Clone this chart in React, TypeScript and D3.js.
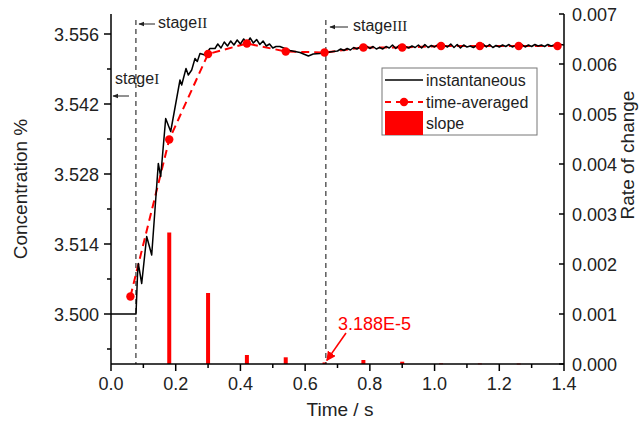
import React from 'react';
import * as d3 from 'd3';

// Instantaneous concentration (time in s, concentration %)
const instTime = [
  0, 0.0773, 0.0819, 0.0844, 0.0949, 0.1103, 0.1258, 0.1462, 0.1536, 0.169, 0.1845,
  0.2132, 0.2185, 0.2318, 0.2389, 0.2494, 0.2596, 0.2667, 0.275, 0.2905, 0.3059, 0.3214,
  0.33, 0.34, 0.35, 0.36, 0.37, 0.38, 0.39, 0.40, 0.41, 0.42, 0.43, 0.44, 0.45, 0.46,
  0.47, 0.48, 0.49, 0.50, 0.51, 0.522, 0.553, 0.584, 0.61, 0.625, 0.646, 0.667, 0.687,
  0.70, 0.71, 0.72, 0.73, 0.74, 0.75, 0.76, 0.77, 0.78, 0.79, 0.80, 0.81, 0.82, 0.83,
  0.84, 0.85, 0.86, 0.87, 0.88, 0.89, 0.90, 0.91, 0.92, 0.93, 0.94, 0.95, 0.96, 0.97,
  0.98, 0.99, 1.00, 1.01, 1.02, 1.03, 1.04, 1.05, 1.06, 1.07, 1.08, 1.09, 1.10, 1.11,
  1.12, 1.13, 1.14, 1.15, 1.16, 1.17, 1.18, 1.19, 1.20, 1.21, 1.22, 1.23, 1.24, 1.25,
  1.26, 1.27, 1.28, 1.29, 1.30, 1.31, 1.32, 1.33, 1.34, 1.35, 1.36, 1.37, 1.38, 1.39, 1.40,
];
const instConc = [
  3.5, 3.5, 3.5078, 3.5101, 3.5061, 3.5155, 3.5118, 3.5301, 3.5275, 3.5391, 3.5365,
  3.5468, 3.5458, 3.5491, 3.5478, 3.5488, 3.5511, 3.5505, 3.5521, 3.5518, 3.5531, 3.5531,
  3.554, 3.5532, 3.5544, 3.5536, 3.5546, 3.5538, 3.5548, 3.554, 3.555, 3.5541, 3.5552, 3.5542, 3.5549, 3.5539,
  3.5546, 3.5536, 3.554, 3.5532, 3.5535, 3.5535, 3.5527, 3.5523, 3.5516, 3.552, 3.5521, 3.5523, 3.5525,
  3.5526, 3.553, 3.5527, 3.5531, 3.5528, 3.5533, 3.553, 3.5534, 3.5531, 3.5536, 3.5531, 3.5535, 3.553, 3.5533,
  3.553, 3.5535, 3.5532, 3.5538, 3.5531, 3.5537, 3.5533, 3.5535, 3.5532, 3.5536, 3.5533, 3.5538, 3.5532, 3.5539,
  3.5533, 3.5537, 3.5534, 3.5539, 3.5533, 3.5537, 3.5534, 3.554, 3.5533, 3.5539, 3.5532, 3.5538, 3.5534, 3.5536,
  3.5533, 3.5537, 3.5535, 3.554, 3.5534, 3.5539, 3.5533, 3.5537, 3.5534, 3.5538, 3.5535, 3.5539, 3.5534, 3.5537,
  3.5535, 3.5539, 3.5534, 3.5538, 3.5535, 3.5539, 3.5536, 3.5538, 3.5535, 3.5539, 3.5536, 3.5538, 3.5537, 3.5539, 3.5538,
];

// Time-averaged concentration
const avgTime = [0.06, 0.18, 0.30, 0.42, 0.54, 0.66, 0.78, 0.90, 1.02, 1.14, 1.26, 1.38];
const avgConc = [3.5035, 3.5349, 3.552, 3.5541, 3.5525, 3.5523, 3.5533, 3.5533, 3.5536, 3.5536, 3.5536, 3.5536];

// Slope (rate of change)
const slopeTime = [0.18, 0.30, 0.42, 0.54, 0.66, 0.78, 0.90, 1.02, 1.14, 1.26];
const slopeValue = [0.00263, 0.00142, 0.00018, 0.000134, 0.00003188, 0.00008, 0.000046, 0.000012, 0.00001, 0.000008];

const xTicks = [0, 0.2, 0.4, 0.6, 0.8, 1.0, 1.2, 1.4];
const xMinorTicks = [0.1, 0.3, 0.5, 0.7, 0.9, 1.1, 1.3];
const yLeftTicks = [3.5, 3.514, 3.528, 3.542, 3.556];
const yLeftMinor = [3.493, 3.507, 3.521, 3.535, 3.549];
const yRightTicks = [0, 0.001, 0.002, 0.003, 0.004, 0.005, 0.006, 0.007];
const stageTimes = [0.077, 0.664];

const FONT = 'Liberation Sans, Arial, sans-serif';
const SERIF = 'Liberation Serif, Times New Roman, serif';
const RED = '#ff0000';

export default function App() {
  const x = d3.scaleLinear().domain([0, 1.4]).range([111, 564]);
  const yL = d3.scaleLinear().domain([3.49, 3.56]).range([364, 14]);
  const yR = d3.scaleLinear().domain([0, 0.007]).range([364, 14]);

  const inst = instTime.map((t, i) => [t, instConc[i]] as [number, number]);
  const avg = avgTime.map((t, i) => [t, avgConc[i]] as [number, number]);

  const line = d3.line<[number, number]>().x(d => x(d[0])).y(d => yL(d[1]));

  const x0 = x(0), x1 = x(1.4), yb = yL(3.49), yt = yL(3.56);
  const annX = x(0.664), annY = yR(0.00003188);

  return (
    <svg width={644} height={428} style={{ position: 'absolute', left: 0, top: 0, background: '#fff' }}
      fontFamily={FONT}>
      <defs>
        <marker id="arrBlack" viewBox="0 0 10 10" refX="9" refY="5" markerWidth="6" markerHeight="6" orient="auto">
          <path d="M0,1 L10,5 L0,9 z" fill="#222" />
        </marker>
        <marker id="arrRed" viewBox="0 0 10 10" refX="9" refY="5" markerWidth="6" markerHeight="6" orient="auto">
          <path d="M0,0 L10,5 L0,10 z" fill={RED} />
        </marker>
      </defs>

      {/* slope bars */}
      {slopeTime.map((t, i) => (
        <rect key={'b' + i} x={x(t) - 2} y={yR(slopeValue[i])} width={4}
          height={Math.max(0.8, yR(0) - yR(slopeValue[i]))} fill={RED} />
      ))}

      {/* stage dashed lines */}
      {stageTimes.map((t, i) => (
        <line key={'s' + i} x1={x(t)} x2={x(t)} y1={20} y2={yb} stroke="#333" strokeWidth={1.2}
          strokeDasharray="5,4" />
      ))}

      {/* time-averaged */}
      <path d={line(avg) || ''} fill="none" stroke={RED} strokeWidth={2} strokeDasharray="8,5" />
      {/* instantaneous */}
      <path d={line(inst) || ''} fill="none" stroke="#000" strokeWidth={1.5} strokeLinejoin="round" />
      {avg.map((d, i) => (
        <circle key={'c' + i} cx={x(d[0])} cy={yL(d[1])} r={4.2} fill={RED} />
      ))}

      {/* axes */}
      <line x1={x0} x2={x0} y1={yt} y2={yb} stroke="#000" strokeWidth={1.5} />
      <line x1={x1} x2={x1} y1={yt} y2={yb} stroke="#000" strokeWidth={1.5} />
      <line x1={x0} x2={x1} y1={yb} y2={yb} stroke="#000" strokeWidth={1.5} />

      {xTicks.map((t, i) => (
        <g key={'xt' + i}>
          <line x1={x(t)} x2={x(t)} y1={yb} y2={yb + 7} stroke="#000" strokeWidth={1.5} />
          <text x={x(t)} y={390} fontSize={18} textAnchor="middle" fill="#222">{t.toFixed(1)}</text>
        </g>
      ))}
      {xMinorTicks.map((t, i) => (
        <line key={'xm' + i} x1={x(t)} x2={x(t)} y1={yb} y2={yb + 4} stroke="#000" strokeWidth={1.5} />
      ))}

      {yLeftTicks.map((v, i) => (
        <g key={'yl' + i}>
          <line x1={x0 - 7} x2={x0} y1={yL(v)} y2={yL(v)} stroke="#000" strokeWidth={1.5} />
          <text x={99} y={yL(v) + 6.5} fontSize={18} textAnchor="end" fill="#222">{v.toFixed(3)}</text>
        </g>
      ))}
      {yLeftMinor.map((v, i) => (
        <line key={'ylm' + i} x1={x0 - 4} x2={x0} y1={yL(v)} y2={yL(v)} stroke="#000" strokeWidth={1.5} />
      ))}

      {yRightTicks.map((v, i) => (
        <g key={'yr' + i}>
          <line x1={x1 - 5} x2={x1} y1={yR(v)} y2={yR(v)} stroke="#000" strokeWidth={1.5} />
          <text x={572} y={yR(v) + 6.5} fontSize={18} textAnchor="start" fill="#222">{v.toFixed(3)}</text>
        </g>
      ))}

      {/* axis titles */}
      <text x={340} y={416} fontSize={19} textAnchor="middle" fill="#222">Time / s</text>
      <text transform="translate(27,189) rotate(-90)" fontSize={19} textAnchor="middle" fill="#222">Concentration %</text>
      <text transform="translate(634,155) rotate(-90)" fontSize={19} textAnchor="middle" fill="#222">Rate of change</text>

      {/* stage labels */}
      <text x={115} y={84} fontSize={16} fill="#222">stage<tspan fontFamily={SERIF} fontSize={15}>I</tspan></text>
      <line x1={129} x2={113} y1={96} y2={96} stroke="#222" strokeWidth={1} markerEnd="url(#arrBlack)" />
      <text x={158} y={28} fontSize={16} fill="#222">stage<tspan fontFamily={SERIF} fontSize={15}>II</tspan></text>
      <line x1={155} x2={139} y1={24} y2={24} stroke="#222" strokeWidth={1} markerEnd="url(#arrBlack)" />
      <text x={353} y={31} fontSize={16} fill="#222">stage<tspan fontFamily={SERIF} fontSize={15}>III</tspan></text>
      <line x1={348} x2={330} y1={27} y2={27} stroke="#222" strokeWidth={1} markerEnd="url(#arrBlack)" />

      {/* annotation */}
      <text x={338} y={330} fontSize={18} fill={RED}>3.188E-5</text>
      <line x1={346} x2={annX + 1} y1={333} y2={annY - 2} stroke={RED} strokeWidth={1.6} markerEnd="url(#arrRed)" />

      {/* legend */}
      <rect x={382} y={68} width={155} height={67} fill="#fff" stroke="#777" strokeWidth={1} />
      <line x1={385} x2={423} y1={80} y2={80} stroke="#000" strokeWidth={1.5} />
      <text x={426} y={86} fontSize={16} fill="#222">instantaneous</text>
      <line x1={385} x2={423} y1={102} y2={102} stroke={RED} strokeWidth={2} strokeDasharray="6,5" />
      <circle cx={404} cy={102} r={4.2} fill={RED} />
      <text x={426} y={108} fontSize={16} fill="#222">time-averaged</text>
      <rect x={385} y={111} width={38} height={24} fill={RED} />
      <text x={426} y={129} fontSize={16} fill="#222">slope</text>
    </svg>
  );
}
